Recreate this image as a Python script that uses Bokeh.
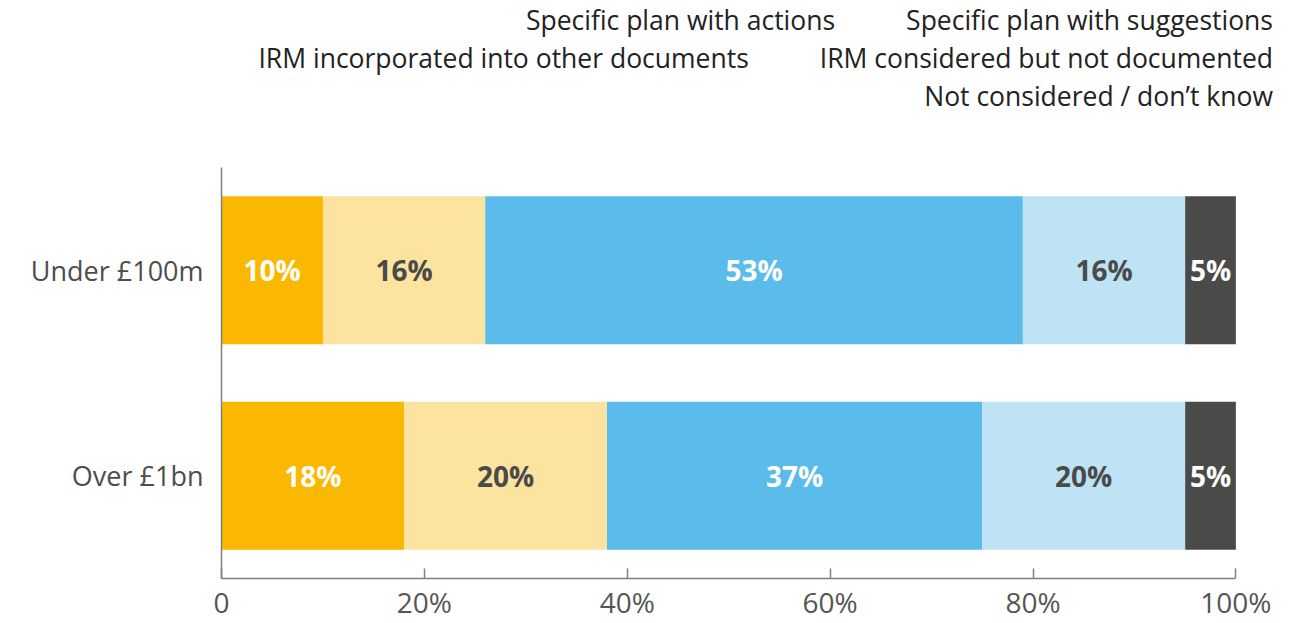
from bokeh.plotting import figure
from bokeh.layouts import column
from bokeh.models import (ColumnDataSource, Legend, LegendItem, Range1d, FactorRange, FixedTicker,
                          Grid, CDSView, IndexFilter)
from bokeh.core.properties import value
from bokeh.embed import file_html
from bokeh.resources import INLINE

# ---- data ----
groups = ["Under £100m", "Over £1bn"]
series = [
    "Specific plan with actions",
    "Specific plan with suggestions",
    "IRM incorporated into other documents",
    "IRM considered but not documented",
    "Not considered / don’t know",
]
actions = [10, 18]
suggestions = [16, 20]
incorporated = [53, 37]
considered = [16, 20]
not_considered = [5, 5]
x_ticks = [0, 20, 40, 60, 80, 100]
x_tick_labels = ["0", "20%", "40%", "60%", "80%", "100%"]

colors = ["#FAB800", "#FCE3A0", "#5BBBEB", "#BEE3F5", "#4A4A49"]
label_colors = ["#FFFFFF", "#4A4A49", "#FFFFFF", "#4A4A49", "#FFFFFF"]
FONT = "Open Sans"

values = [actions, suggestions, incorporated, considered, not_considered]
keys = ["s%d" % i for i in range(len(series))]
data = {"group": groups}
for k, v in zip(keys, values):
    data[k] = v
source = ColumnDataSource(data)

# label positions computed from data
lx, ly, lt, lc = [], [], [], []
for gi, g in enumerate(groups):
    start = 0
    for si, v in enumerate(values):
        val = v[gi]
        lx.append(start + val / 2)
        ly.append(g)
        lt.append("%d%%" % val)
        lc.append(label_colors[si])
        start += val
lsource = ColumnDataSource(dict(x=lx, y=ly, text=lt, color=lc))

W = 1289
LEG_H = [44, 38, 38]
H = 623 - sum(LEG_H)

# ---- main chart ----
p = figure(
    width=W, height=H,
    y_range=FactorRange(factors=list(reversed(groups))),
    x_range=Range1d(0, 104.3),
    output_backend="svg", toolbar_location=None,
    min_border_left=221, min_border_right=10,
    min_border_top=167 - sum(LEG_H), min_border_bottom=43,
)
p.outline_line_color = None
p.xgrid.visible = False
p.ygrid.visible = False
p.y_range.range_padding = 0

rs = p.hbar_stack(keys, y="group", height=0.72, color=colors, line_color=None, source=source)

p.text(x="x", y="y", text="text", source=lsource, text_color="color",
       text_align="center", text_baseline="middle",
       text_font=value(FONT), text_font_style="bold", text_font_size="28px")

xa = p.xaxis[0]
xa.ticker = FixedTicker(ticks=x_ticks)
xa.major_label_overrides = {t: l for t, l in zip(x_ticks, x_tick_labels)}
xa.bounds = (0, 100)
xa.major_tick_in = 10
xa.major_tick_out = 0
xa.minor_tick_line_color = None
xa.axis_line_color = "#7F7F7F"
xa.axis_line_width = 1.5
xa.major_tick_line_color = "#7F7F7F"
xa.major_tick_line_width = 1.5
xa.major_label_text_font = FONT
xa.major_label_text_font_size = "28px"
xa.major_label_text_color = "#555555"
xa.major_label_standoff = 4

ya = p.yaxis[0]
ya.major_tick_in = 0
ya.major_tick_out = 0
ya.minor_tick_line_color = None
ya.axis_line_color = "#7F7F7F"
ya.axis_line_width = 1.5
ya.major_label_text_font = FONT
ya.major_label_text_font_size = "27px"
ya.major_label_text_color = "#4D4D4D"
ya.major_label_standoff = 18

# ---- legend rows (one slim figure per row, right-aligned) ----
rows = [[0, 1], [2, 3], [4]]
leg_figs = []
for items, h in zip(rows, LEG_H):
    lf = figure(width=W, height=h, output_backend="svg", toolbar_location=None,
                x_axis_location=None, y_axis_location=None,
                y_range=FactorRange(factors=groups), x_range=Range1d(101, 102),
                min_border_left=0, min_border_right=10, min_border_top=0, min_border_bottom=0)
    lf.outline_line_color = None
    for obj in list(lf.center) + list(lf.renderers):
        if isinstance(obj, Grid):
            obj.visible = False
    # legend keys: same stacked bars, with an empty view so nothing is drawn in the strip
    lrs = lf.hbar_stack(keys, y="group", height=0.72, color=colors, line_color=None, source=source,
                        view=CDSView(filter=IndexFilter(indices=[])))
    leg = Legend(
        items=[LegendItem(label=series[i], renderers=[lrs[i]]) for i in items],
        orientation="horizontal", location="bottom_right",
        glyph_width=25, glyph_height=25, label_height=25, label_standoff=15,
        spacing=31, padding=0, margin=6,
        border_line_alpha=0, background_fill_alpha=0,
        label_text_font=FONT, label_text_font_size="26.5px", label_text_color="#222222",
    )
    lf.add_layout(leg, "center")
    leg_figs.append(lf)

layout = column(*leg_figs, p, spacing=0)
open("out.html", "w").write(file_html(layout, INLINE))
